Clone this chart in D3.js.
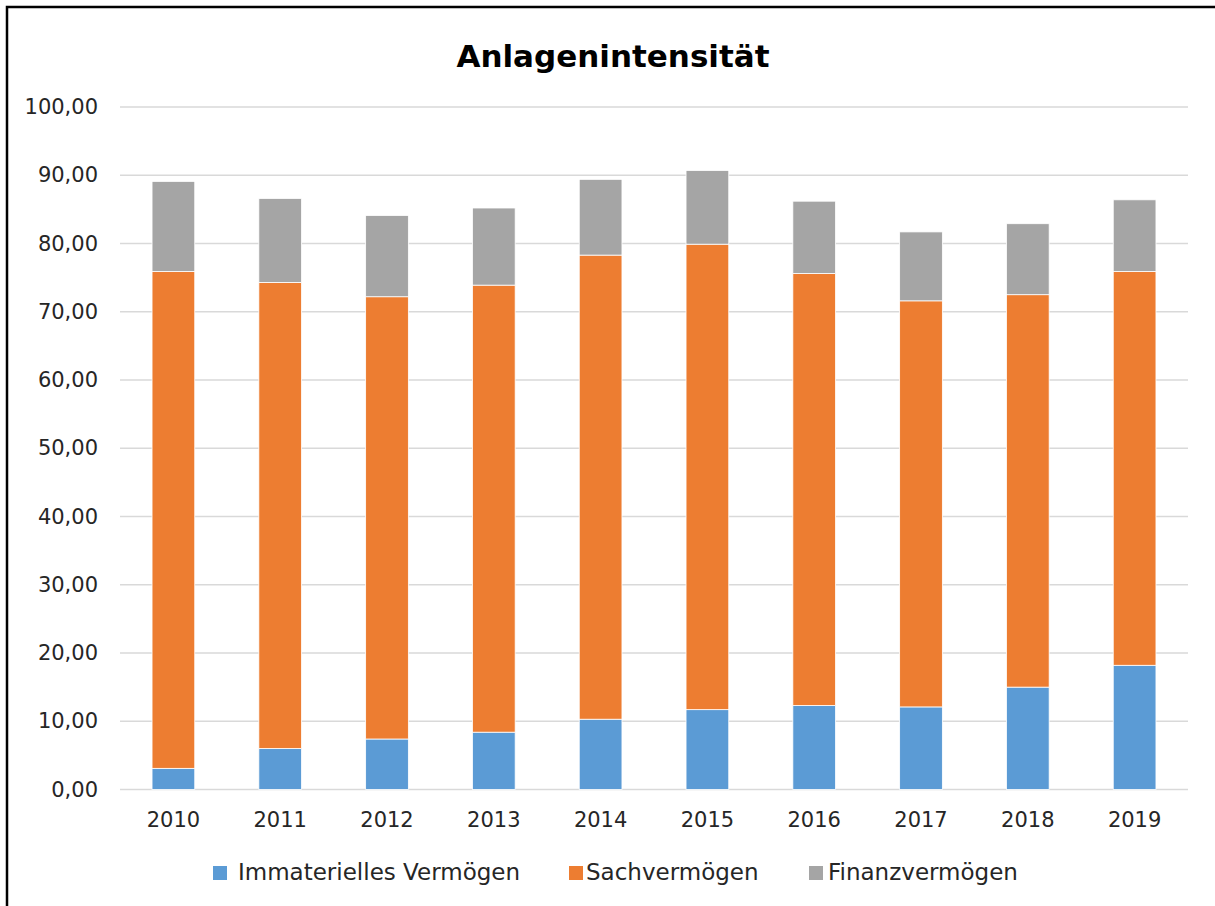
<!DOCTYPE html>
<html>
<head>
<meta charset="utf-8">
<script src="https://cdn.jsdelivr.net/npm/d3@7"></script>
<style>
  body { margin: 0; background: #fff; }
  svg { display: block; }
</style>
</head>
<body>
<svg id="chart"></svg>
<script>
var years = ["2010", "2011", "2012", "2013", "2014", "2015", "2016", "2017", "2018", "2019"];
var immateriell = [3.1, 6.0, 7.4, 8.4, 10.3, 11.7, 12.3, 12.1, 15.0, 18.2];
var sachvermoegen = [72.8, 68.3, 64.8, 65.5, 68.0, 68.2, 63.3, 59.5, 57.5, 57.7];
var finanzvermoegen = [13.2, 12.3, 11.9, 11.3, 11.1, 10.8, 10.6, 10.1, 10.4, 10.5];
var seriesNames = ["Immaterielles Vermögen", "Sachvermögen", "Finanzvermögen"];
var colors = ["#5B9BD5", "#ED7D31", "#A5A5A5"];
var yTicks = [0, 10, 20, 30, 40, 50, 60, 70, 80, 90, 100];

var width = 1215, height = 906;
var margin = { top: 107, right: 27, bottom: 116, left: 120 };
var font = "'Century Gothic', 'DejaVu Sans', sans-serif";

var svg = d3.select("#chart").attr("width", width).attr("height", height);

// outer frame (only left/top edges visible in the picture)
svg.append("rect")
  .attr("x", 7).attr("y", 7)
  .attr("width", width + 20).attr("height", height + 20)
  .attr("fill", "none").attr("stroke", "#000").attr("stroke-width", 2.5);

var table = years.map(function (y, i) {
  return { year: y, s0: immateriell[i], s1: sachvermoegen[i], s2: finanzvermoegen[i] };
});
var stacked = d3.stack().keys(["s0", "s1", "s2"])(table);

var x = d3.scaleBand().domain(years).range([margin.left, width - margin.right]).paddingInner(0.6).paddingOuter(0.3);
var y = d3.scaleLinear().domain([0, 100]).range([height - margin.bottom - 0.5, margin.top]);

// grid
svg.append("g")
  .selectAll("line")
  .data(yTicks)
  .enter()
  .append("line")
  .attr("x1", margin.left)
  .attr("x2", width - margin.right)
  .attr("y1", function (d) { return y(d); })
  .attr("y2", function (d) { return y(d); })
  .attr("stroke", "#D9D9D9")
  .attr("stroke-width", 1.5);

// bars
svg.append("g")
  .selectAll("g")
  .data(stacked)
  .enter()
  .append("g")
  .attr("fill", function (d, i) { return colors[i]; })
  .selectAll("rect")
  .data(function (d) { return d; })
  .enter()
  .append("rect")
  .attr("x", function (d) { return x(d.data.year); })
  .attr("width", x.bandwidth())
  .attr("y", function (d) { return y(d[1]); })
  .attr("height", function (d) { return y(d[0]) - y(d[1]); })
  .attr("stroke", "#fff")
  .attr("stroke-width", 0.8);

// y axis labels
var fmt = function (v) { return d3.format(".2f")(v).replace(".", ","); };
var yAxis = d3.axisLeft(y).tickValues(yTicks).tickFormat(fmt).tickSize(0).tickPadding(22);
var gy = svg.append("g").attr("transform", "translate(" + margin.left + ",0)").call(yAxis);
gy.select(".domain").remove();
gy.selectAll("text").attr("font-family", font).attr("font-size", 21).attr("fill", "#262626");

// x axis labels
var xAxis = d3.axisBottom(x).tickSize(0).tickPadding(23);
var gx = svg.append("g").attr("transform", "translate(0," + y(0) + ")").call(xAxis);
gx.select(".domain").remove();
gx.selectAll("text").attr("font-family", font).attr("font-size", 21).attr("fill", "#262626");

// title
svg.append("text")
  .attr("x", 613).attr("y", 67)
  .attr("text-anchor", "middle")
  .attr("font-family", font)
  .attr("font-weight", "bold")
  .attr("font-size", 31)
  .attr("fill", "#000")
  .text("Anlagenintensität");

// legend
var legendX = [213, 569, 809];
var legendGap = [25, 17, 19];
var lg = svg.append("g").selectAll("g")
  .data(seriesNames)
  .enter()
  .append("g")
  .attr("transform", function (d, i) { return "translate(" + legendX[i] + ",866)"; });
lg.append("rect").attr("width", 14).attr("height", 14)
  .attr("fill", function (d, i) { return colors[i]; });
lg.append("text")
  .attr("x", function (d, i) { return legendGap[i]; }).attr("y", 14)
  .attr("font-family", font).attr("font-size", 23).attr("fill", "#262626")
  .text(function (d) { return d; });
</script>
</body>
</html>
